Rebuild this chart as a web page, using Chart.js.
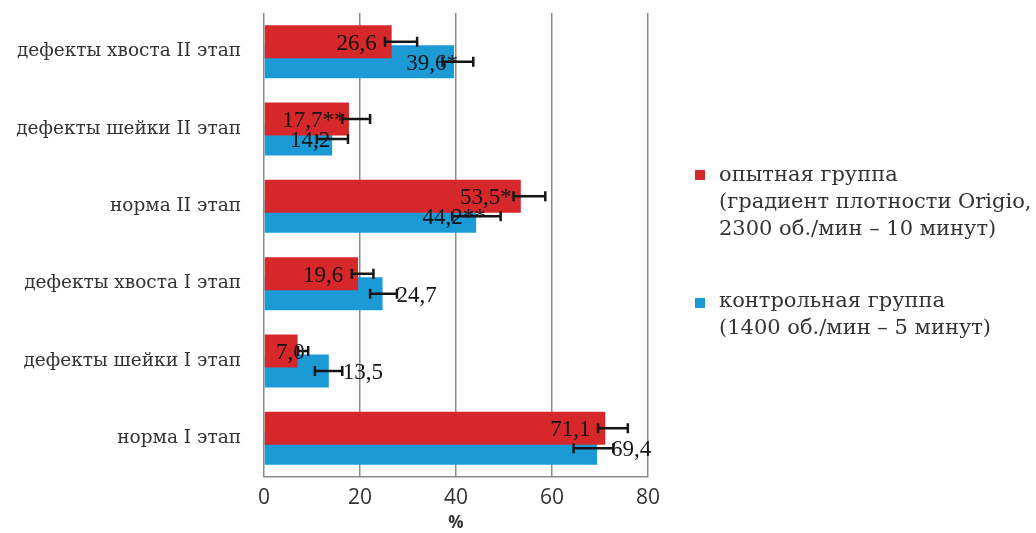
<!DOCTYPE html>
<html>
<head>
<meta charset="utf-8">
<script src="https://cdn.jsdelivr.net/npm/chart.js@4.4.1/dist/chart.umd.min.js"></script>
<style>
  html, body { margin: 0; padding: 0; background: #fff; }
  #wrap { position: relative; width: 1036px; height: 533px; }
  #chart { position: absolute; left: 0; top: 0; }
  .legend-item { position: absolute; left: 695px; font-family: "DejaVu Serif", serif; font-size: 21px; line-height: 27px; color: #333; white-space: pre-line; }
  .legend-item .box { position: absolute; left: 0; width: 10px; height: 10px; }
  .legend-item .txt { margin-left: 24px; }
</style>
</head>
<body>
<div id="wrap">
  <canvas id="chart" width="1036" height="533"></canvas>
</div>
<script>
// --- DATA ---
const categories = ['дефекты хвоста II этап', 'дефекты шейки II этап', 'норма II этап', 'дефекты хвоста I этап', 'дефекты шейки I этап', 'норма I этап'];
const seriesNames = ['опытная группа', 'контрольная группа'];
const seriesNotes = ['(градиент плотности Origio,\n2300 об./мин – 10 минут)', '(1400 об./мин – 5 минут)'];

const experimental = [26.6, 17.7, 53.5, 19.6, 7.0, 71.1];
const control = [39.6, 14.2, 44.2, 24.7, 13.5, 69.4];

const experimentalLabels = ['26,6', '17,7**', '53,5*', '19,6', '7,0', '71,1'];
const controlLabels = ['39,6*', '14,2', '44,2**', '24,7', '13,5', '69,4'];

// error bar ends as drawn in the picture
const experimentalErrLow = [25.2, 16.3, 52.0, 18.3, 7.1, 69.6];
const experimentalErrHigh = [31.9, 22.1, 58.6, 22.8, 9.2, 75.8];
const controlErrLow = [37.2, 11.0, 39.2, 22.1, 10.6, 64.5];
const controlErrHigh = [43.6, 17.5, 49.3, 27.7, 16.3, 72.8];

const xTicks = [0, 20, 40, 60, 80];

const RED = '#d6282b';
const BLUE = '#1b9ad6';

// --- LEGEND (html) ---
const wrap = document.getElementById('wrap');
[[RED, 161, 9], [BLUE, 287, 11]].forEach(([color, top, boxTop], i) => {
    const item = document.createElement('div');
    item.className = 'legend-item';
    item.style.top = top + 'px';
    const box = document.createElement('span');
    box.className = 'box';
    box.style.background = color;
    box.style.top = boxTop + 'px';
    const txt = document.createElement('div');
    txt.className = 'txt';
    txt.textContent = seriesNames[i] + '\n' + seriesNotes[i];
    item.appendChild(box);
    item.appendChild(txt);
    wrap.appendChild(item);
});

// value labels + error bars
const barExtras = {
    id: 'barExtras',
    afterDatasetsDraw(chart, args, opts) {
        const ctx = chart.ctx;
        const xs = chart.scales.x;
        ctx.save();

        // labels first, error bars go over them (like in the original)
        ctx.font = opts.font;
        ctx.fillStyle = '#141414';
        ctx.textAlign = 'center';
        ctx.textBaseline = 'middle';
        chart.data.datasets.forEach((ds, i) => {
            chart.getDatasetMeta(i).data.forEach((bar, j) => {
                const text = ds.valueLabels[j];
                const w = ctx.measureText(text).width;
                let cx = bar.x + opts.shift[i][j];
                cx = Math.max(cx, chart.chartArea.left + opts.minGap + w / 2);
                ctx.fillText(text, cx, bar.y + 2);
            });
        });

        ctx.strokeStyle = '#151515';
        ctx.lineWidth = 2.5;
        chart.data.datasets.forEach((ds, i) => {
            chart.getDatasetMeta(i).data.forEach((bar, j) => {
                const x1 = xs.getPixelForValue(ds.errLow[j]);
                const x2 = xs.getPixelForValue(ds.errHigh[j]);
                const y = bar.y;
                ctx.beginPath();
                ctx.moveTo(x1, y); ctx.lineTo(x2, y);
                ctx.moveTo(x1, y - 5); ctx.lineTo(x1, y + 5);
                ctx.moveTo(x2, y - 5); ctx.lineTo(x2, y + 5);
                ctx.stroke();
            });
        });
        ctx.restore();
    }
};

const chart = new Chart(document.getElementById('chart'), {
    type: 'bar',
    data: {
        labels: categories,
        datasets: [
            {
                label: seriesNames[0],
                data: experimental,
                backgroundColor: RED,
                valueLabels: experimentalLabels,
                errLow: experimentalErrLow,
                errHigh: experimentalErrHigh
            },
            {
                label: seriesNames[1],
                data: control,
                backgroundColor: BLUE,
                valueLabels: controlLabels,
                errLow: controlErrLow,
                errHigh: controlErrHigh
            }
        ]
    },
    options: {
        indexAxis: 'y',
        responsive: false,
        animation: false,
        categoryPercentage: 0.517,
        barPercentage: 1.65,
        layout: { padding: { left: 0, right: 388, top: 13, bottom: 0 } },
        plugins: {
            legend: { display: false },
            tooltip: { enabled: false },
            barExtras: {
                font: '23px "Liberation Serif", serif',
                shift: [[-35, -35, -35, -35, -35, -35], [-22, -22, -22, 34, 34, 34]],
                minGap: 12
            }
        },
        scales: {
            x: {
                min: 0,
                max: 80,
                afterBuildTicks: (scale) => { scale.ticks = xTicks.map(v => ({ value: v })); },
                afterFit: (scale) => { scale.height = 56; scale.paddingLeft = 0; scale.paddingRight = 0; },
                grid: { color: '#8a8a8a', lineWidth: 1.5, drawTicks: false },
                border: { color: '#8a8a8a', width: 1.5 },
                ticks: {
                    padding: 8,
                    color: '#333',
                    font: { family: '"Open Sans", sans-serif', size: 21 }
                },
                title: {
                    display: true,
                    text: '%',
                    color: '#333',
                    padding: { top: 0, bottom: 0 },
                    font: { family: '"Open Sans", sans-serif', size: 17, weight: 'bold' }
                }
            },
            y: {
                afterFit: (scale) => { scale.width = 264; scale.paddingTop = 0; scale.paddingBottom = 0; },
                grid: { display: false, drawTicks: false },
                border: { display: false },
                ticks: {
                    padding: 23,
                    color: '#333',
                    font: { family: '"DejaVu Serif", serif', size: 18.5 }
                }
            }
        }
    },
    plugins: [barExtras]
});
</script>
</body>
</html>
